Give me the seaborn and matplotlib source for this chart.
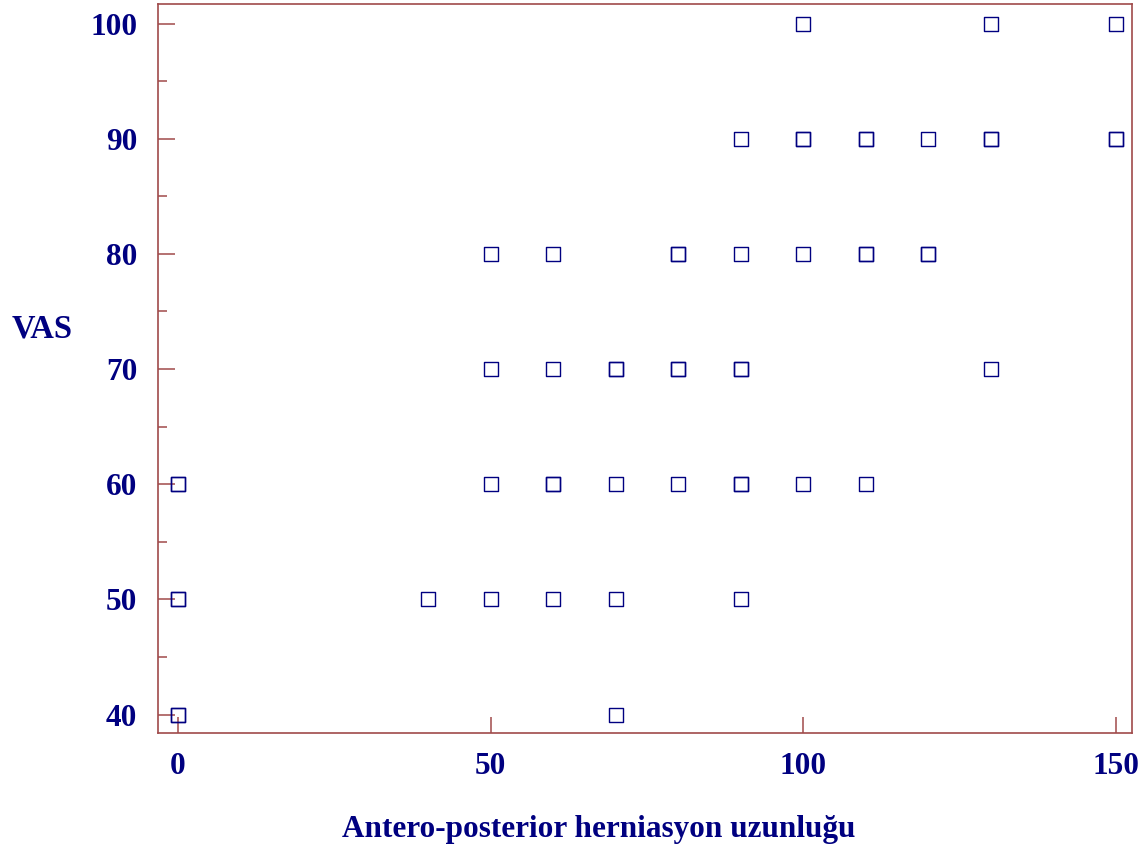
import matplotlib
matplotlib.use("Agg")
import matplotlib.pyplot as plt
from matplotlib.ticker import MultipleLocator, FixedLocator
import seaborn as sns
import pandas as pd

# Data (duplicates drawn over each other, as in the original)
herniation = [0, 0, 0, 0, 0, 0,
              40,
              50, 50, 50, 50,
              60, 60, 60, 60, 60,
              70, 70, 70, 70, 70,
              80, 80, 80, 80, 80,
              90, 90, 90, 90, 90, 90, 90,
              100, 100, 100, 100, 100,
              110, 110, 110, 110, 110,
              120, 120, 120,
              130, 130, 130, 130,
              150, 150, 150]
vas = [60, 60, 50, 50, 40, 40,
       50,
       80, 70, 60, 50,
       80, 70, 60, 60, 50,
       70, 70, 60, 50, 40,
       80, 80, 70, 70, 60,
       90, 80, 70, 70, 60, 60, 50,
       100, 90, 90, 80, 60,
       90, 90, 80, 80, 60,
       90, 80, 80,
       100, 90, 90, 70,
       100, 90, 90]
x_ticks = [0, 50, 100, 150]
y_ticks = [40, 50, 60, 70, 80, 90, 100]
x_label = "Antero-posterior herniasyon uzunluğu"
y_label = "VAS"

df = pd.DataFrame({"x": herniation, "y": vas})

sns.set_style("white")
plt.rcParams["font.family"] = ["Liberation Serif", "DejaVu Serif"]

navy = "#000080"
frame = "#a04a4a"

fig = plt.figure(figsize=(11.43, 8.52), dpi=100)
ax = fig.add_axes([158 / 1143, 1 - 733 / 852, 974 / 1143, 729 / 852])

sns.scatterplot(data=df, x="x", y="y", marker="s", s=100,
                facecolor="none", edgecolor=navy, linewidth=1.0, ax=ax)

ax.set_xlim(-3.2, 152.6)
ax.set_ylim(38.4, 101.7)

ax.xaxis.set_major_locator(FixedLocator(x_ticks))
ax.yaxis.set_major_locator(FixedLocator(y_ticks))
ax.yaxis.set_minor_locator(MultipleLocator(5))

for s in ax.spines.values():
    s.set_color(frame)
    s.set_linewidth(1.2)
    s.set_visible(True)

ax.tick_params(axis="x", which="major", direction="in", length=11.5, width=1.1,
               color=frame, pad=14, labelsize=22.5, labelcolor=navy,
               top=False, bottom=True)
ax.tick_params(axis="y", which="major", direction="in", length=12, width=1.1,
               color=frame, pad=15, labelsize=22.5, labelcolor=navy,
               left=True, right=False)
ax.tick_params(axis="y", which="minor", direction="in", length=6.5, width=1.1,
               color=frame, left=True, right=False)
for lab in ax.get_xticklabels() + ax.get_yticklabels():
    lab.set_fontweight("bold")

ax.set_xlabel(x_label, fontsize=22.5, fontweight="bold", color=navy)
ax.xaxis.set_label_coords((599 - 158) / 974, -0.112)
ax.set_ylabel(y_label, fontsize=23.5, fontweight="bold", color=navy,
              rotation=0, ha="center", va="center")
ax.yaxis.set_label_coords((42 - 158) / 974, (733 - 329) / 729)

fig.savefig("out.png", dpi=100, facecolor="white")
